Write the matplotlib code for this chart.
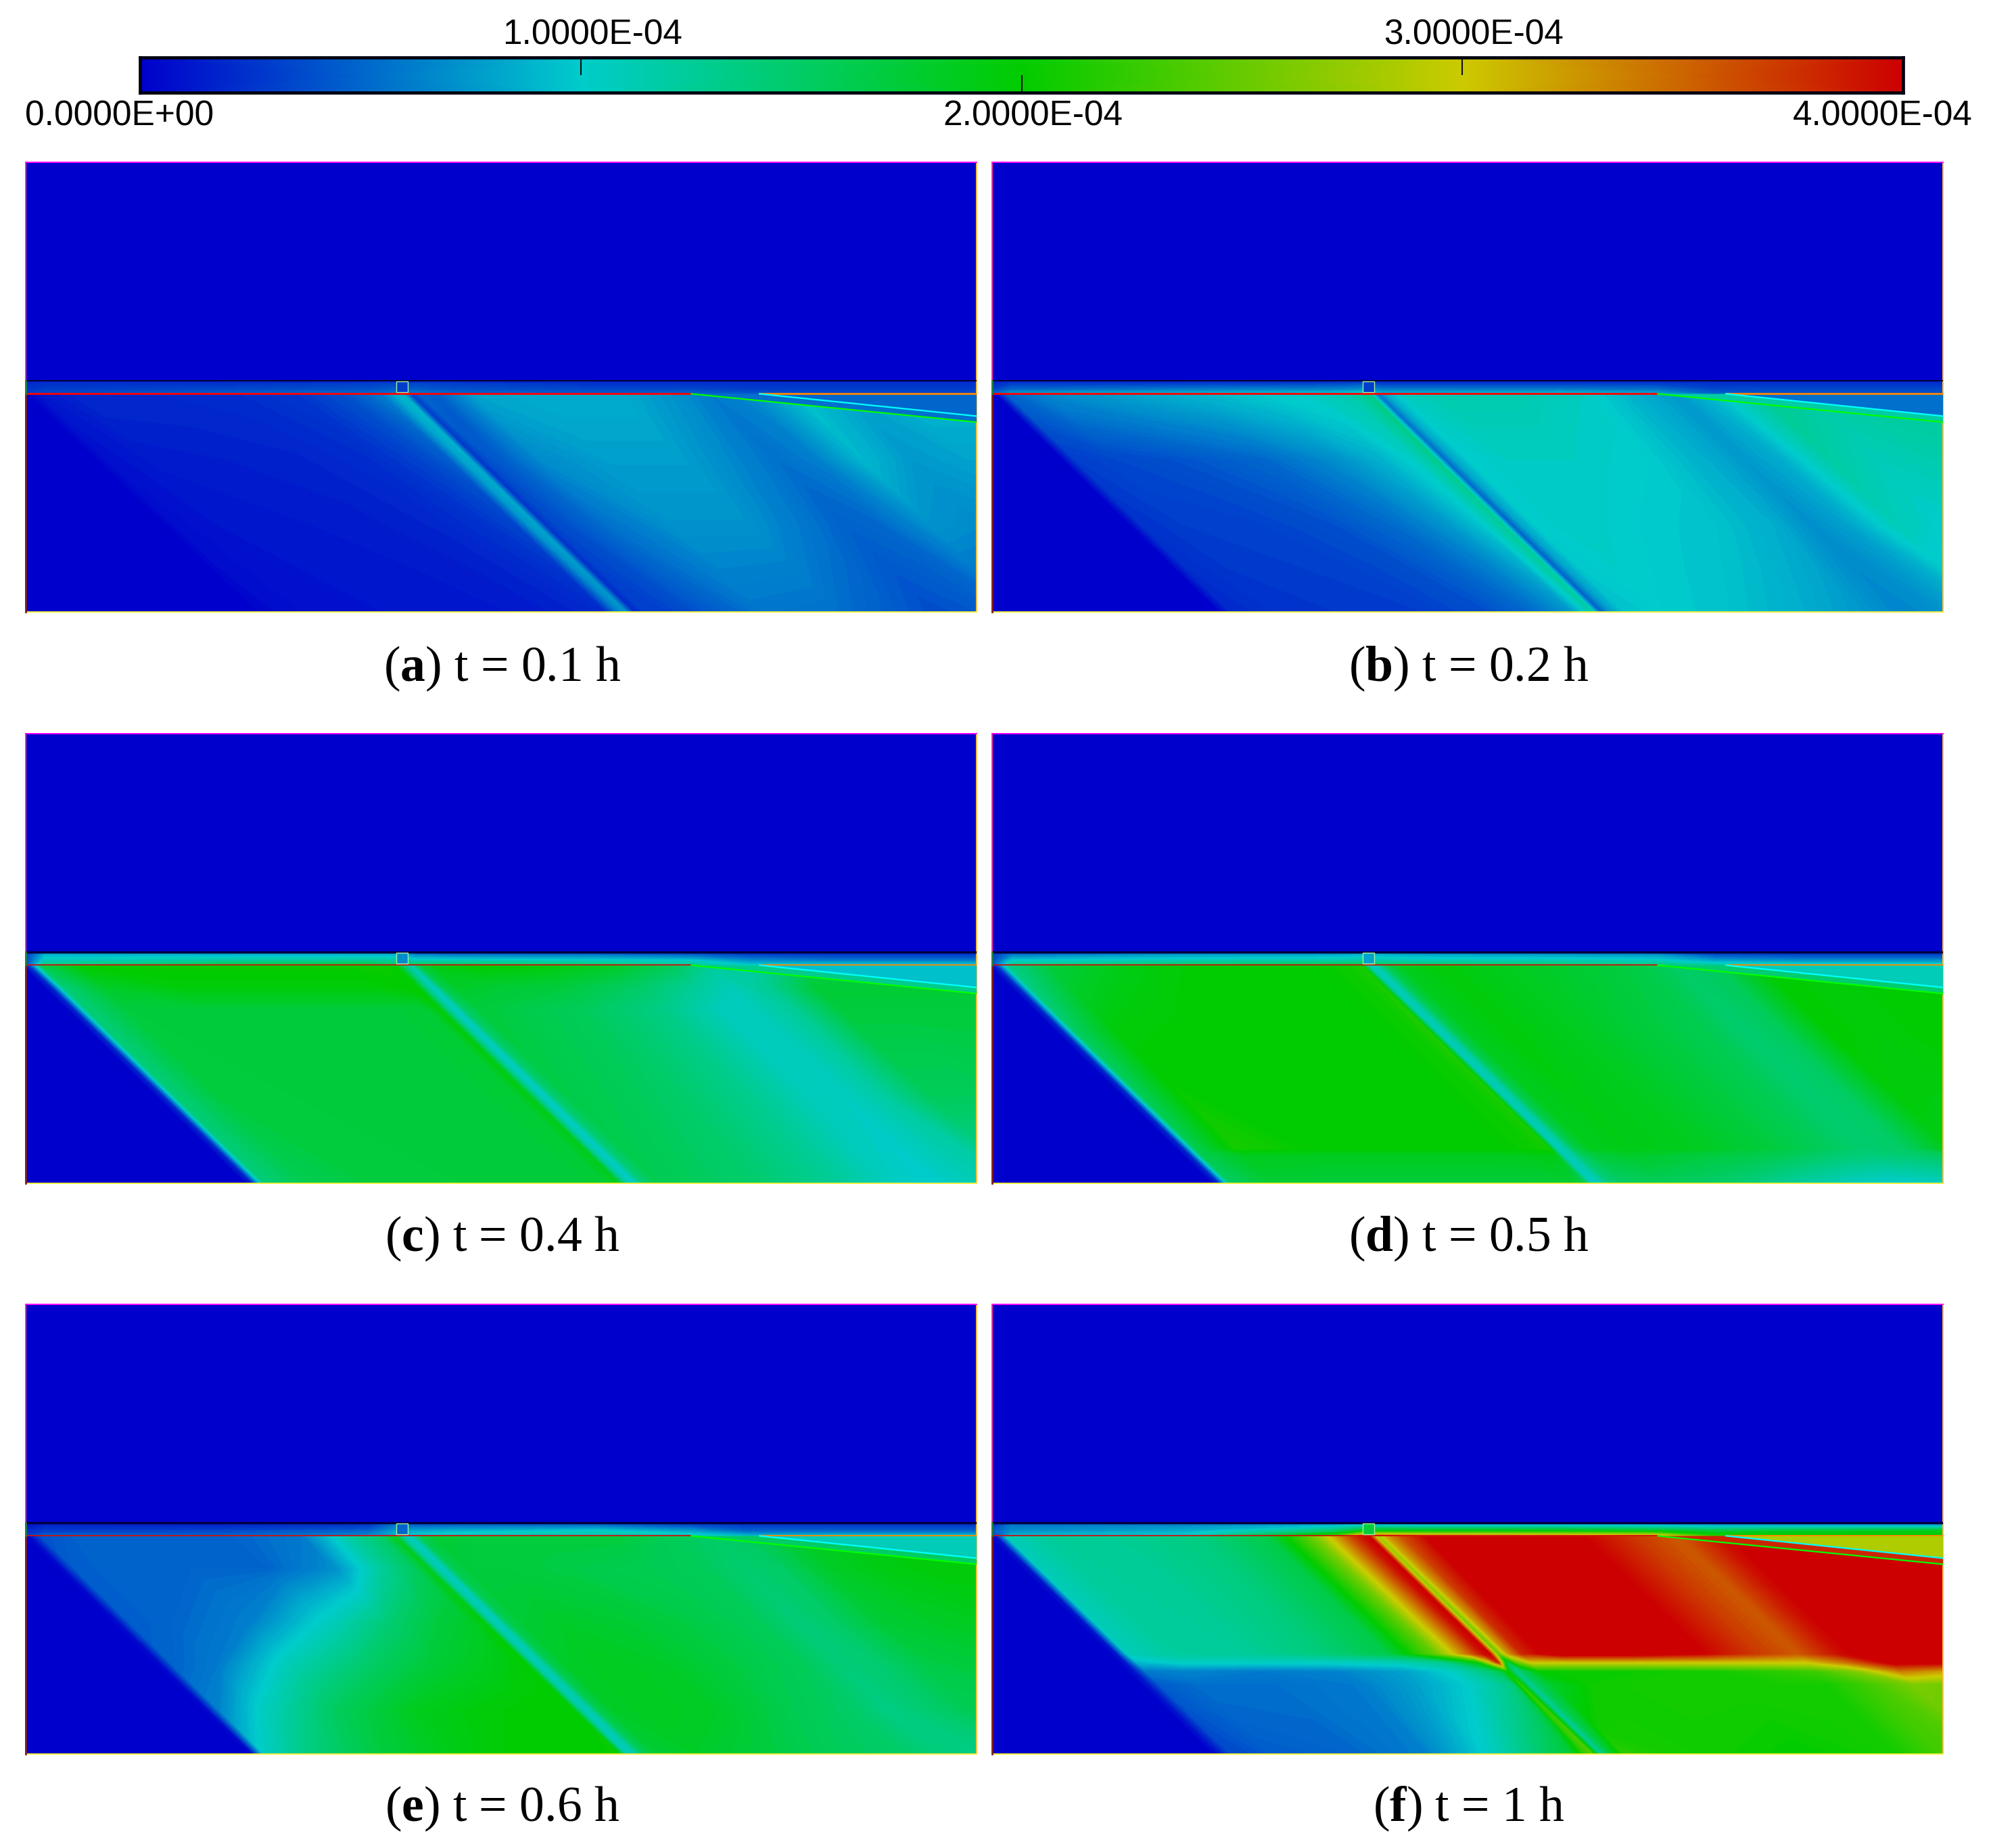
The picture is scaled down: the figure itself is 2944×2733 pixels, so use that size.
import numpy as np
import matplotlib
matplotlib.use('Agg')
import matplotlib.pyplot as plt
from matplotlib.colors import LinearSegmentedColormap, Normalize
from matplotlib.patches import Polygon, Rectangle

W, H = 2944, 2733
UNIT = 1e-4

# colour bar
COLORBAR_VALUES = [0.0, 1.0, 2.0, 3.0, 4.0]
COLORBAR_COLORS = ['#0000cc', '#00cccc', '#00cc00', '#cccc00', '#cc0000']
UPPER_LABELS = ['1.0000E-04', '3.0000E-04']
UPPER_LABEL_VALUES = [1.0, 3.0]
LOWER_LABELS = ['0.0000E+00', '2.0000E-04', '4.0000E-04']
LOWER_LABEL_VALUES = [0.0, 2.0, 4.0]

PANEL_LETTERS = ['a', 'b', 'c', 'd', 'e', 'f']
PANEL_TIMES = ['0.1', '0.2', '0.4', '0.5', '0.6', '1']

# columns along the interface, everything below runs along the same slanted lines
S_COLS = [-0.004, 0.004, 0.016, 0.06, 0.14, 0.22, 0.29, 0.34, 0.375, 0.388, 0.396, 0.405,
          0.415, 0.43, 0.47, 0.54, 0.62, 0.68, 0.72, 0.76, 0.81, 0.86, 0.92, 1.0]

# values in units of 1e-4, rows go from the interface down to the bottom
DEPTH_A = [0.0, 0.3, 0.6, 1.0]
FIELD_A = [
    [0, .03, .12, .2, .2, .22, .28, .42, .62, .85, .9, .3, .5, .45, .8, .85, .85, .72, .6, .68, .95, .8, .9, .9],
    [0, .02, .08, .13, .15, .17, .22, .32, .46, .8, .85, .25, .4, .45, .68, .78, .78, .65, .55, .62, .9, .75, .8, .8],
    [0, .01, .06, .1, .12, .14, .18, .25, .34, .75, .8, .25, .35, .4, .55, .72, .72, .58, .48, .52, .72, .68, .72, .72],
    [0, .01, .04, .08, .1, .11, .13, .17, .22, .62, .72, .2, .3, .3, .4, .58, .55, .45, .38, .42, .5, .5, .45, .4],
]
DEPTH_B = [0.0, 0.3, 0.6, 1.0]
FIELD_B = [
    [0, .03, .5, .68, .8, .9, 1.0, 1.05, 1.15, 1.25, 1.35, .55, .85, 1.05, 1.15, 1.15, 1.05, .85, .75, .95, 1.3, 1.2, 1.25, 1.25],
    [0, .02, .3, .35, .42, .52, .7, .88, 1.05, 1.2, 1.3, .5, .8, 1.0, 1.05, 1.05, 1.0, .85, .75, .85, 1.2, 1.1, 1.15, 1.2],
    [0, .02, .25, .3, .32, .4, .55, .75, .98, 1.15, 1.25, .45, .8, 1.0, 1.05, 1.0, .95, .85, .7, .8, 1.1, 1.0, 1.05, 1.1],
    [0, .02, .2, .25, .28, .3, .4, .55, .75, 1.0, 1.2, .45, .75, .95, 1.0, .95, .85, .75, .65, .7, .85, .85, .8, .7],
]
DEPTH_C = [0.0, 0.1, 0.2, 0.6, 1.0]
FIELD_C = [
    [0, .3, 1.6, 2.0, 2.03, 2.03, 2.03, 2.03, 2.05, 2.0, 1.5, 1.1, 1.7, 1.9, 2.0, 1.95, 1.8, 1.55, 1.25, 1.2, 1.5, 1.55, 1.5, 1.5],
    [0, .2, 1.4, 1.8, 1.95, 1.95, 1.95, 1.95, 2.0, 2.0, 1.4, 1.0, 1.6, 1.8, 1.75, 1.7, 1.5, 1.25, 1.1, 1.3, 1.75, 1.75, 1.75, 1.75],
    [0, .2, 1.4, 1.7, 1.72, 1.72, 1.72, 1.72, 1.75, 1.95, 1.3, 1.0, 1.5, 1.7, 1.65, 1.55, 1.35, 1.1, 1.1, 1.25, 1.7, 1.7, 1.7, 1.7],
    [0, .2, 1.4, 1.68, 1.7, 1.72, 1.72, 1.72, 1.75, 1.9, 1.25, 1.0, 1.45, 1.65, 1.6, 1.5, 1.3, 1.1, 1.05, 1.2, 1.55, 1.55, 1.6, 1.6],
    [0, .2, 1.4, 1.6, 1.7, 1.7, 1.72, 1.7, 1.75, 1.85, 1.2, 1.0, 1.4, 1.6, 1.55, 1.45, 1.25, 1.05, 1.0, 1.1, 1.2, 1.25, 1.3, 1.3],
]
DEPTH_D = [0.0, 0.3, 0.84, 0.87, 1.0]
FIELD_D = [
    [0, .2, 1.3, 1.7, 1.9, 2.0, 2.0, 2.0, 2.05, 2.1, 1.1, 1.15, 1.6, 1.85, 1.95, 1.85, 1.75, 1.65, 1.5, 1.55, 2.0, 1.95, 2.0, 2.0],
    [0, .2, 1.5, 1.95, 2.0, 2.0, 2.0, 2.0, 2.05, 2.15, 1.1, 1.15, 1.6, 1.85, 1.95, 1.85, 1.7, 1.6, 1.45, 1.55, 2.0, 1.95, 2.0, 2.0],
    [0, .2, 1.6, 2.1, 2.0, 2.0, 2.0, 2.0, 2.05, 2.1, 1.1, 1.15, 1.6, 1.85, 1.9, 1.85, 1.7, 1.55, 1.45, 1.5, 1.9, 1.9, 1.95, 1.95],
    [0, .2, 1.6, 1.85, 1.85, 1.85, 1.85, 1.85, 1.9, 1.9, 1.1, 1.15, 1.5, 1.7, 1.8, 1.7, 1.6, 1.45, 1.4, 1.45, 1.6, 1.6, 1.6, 1.6],
    [0, .2, 1.5, 1.75, 1.7, 1.7, 1.7, 1.72, 1.75, 1.6, 1.05, 1.1, 1.4, 1.5, 1.55, 1.45, 1.2, 1.05, 1.0, 1.05, 1.1, 1.1, 1.1, 1.1],
]
DEPTH_E = [0.0, 0.15, 0.4, 0.6, 0.8, 1.0]
FIELD_E = [
    [0, .05, .4, .5, .5, .5, .6, 1.2, 1.5, 1.85, 1.2, 1.05, 1.6, 1.75, 1.7, 1.7, 1.7, 1.55, 1.5, 1.55, 1.8, 1.9, 1.95, 1.95],
    [0, .05, .45, .5, .5, .5, .7, 1.25, 1.55, 1.85, 1.2, 1.05, 1.6, 1.7, 1.7, 1.65, 1.6, 1.55, 1.45, 1.5, 1.8, 1.9, 1.95, 1.95],
    [0, .05, .45, .5, .62, 1.05, 1.45, 1.7, 1.8, 1.95, 1.2, 1.05, 1.6, 1.75, 1.8, 1.75, 1.65, 1.55, 1.4, 1.5, 1.75, 1.8, 1.85, 1.9],
    [0, .05, .5, .6, 1.15, 1.5, 1.75, 1.85, 1.95, 2.0, 1.2, 1.1, 1.6, 1.8, 1.85, 1.8, 1.65, 1.55, 1.4, 1.45, 1.65, 1.7, 1.75, 1.75],
    [0, .05, .65, 1.05, 1.55, 1.85, 1.95, 2.0, 2.0, 2.0, 1.2, 1.1, 1.6, 1.8, 1.85, 1.8, 1.6, 1.5, 1.35, 1.45, 1.6, 1.6, 1.6, 1.6],
    [0, .05, 1.05, 1.35, 1.7, 1.9, 2.0, 2.0, 2.0, 2.05, 1.15, 1.1, 1.55, 1.75, 1.8, 1.7, 1.55, 1.5, 1.4, 1.35, 1.4, 1.4, 1.4, 1.4],
]
DEPTH_F = [0.0, 0.54, 0.58, 0.62, 0.68, 1.0]
FIELD_F = [
    [0, .1, 1.1, 1.25, 1.28, 1.38, 1.65, 2.6, 3.6, 3.9, 4.0, 2.7, 3.2, 3.6, 4.2, 4.2, 4.0, 3.7, 3.55, 3.9, 4.2, 4.2, 4.2, 4.2],
    [0, .1, 1.1, 1.22, 1.25, 1.4, 1.65, 2.5, 3.5, 3.9, 4.0, 2.4, 3.2, 3.8, 4.2, 4.2, 4.0, 3.7, 3.55, 3.9, 4.2, 4.2, 4.2, 4.2],
    [0, .1, .9, 1.05, 1.05, 1.05, 1.1, 1.3, 2.0, 3.0, 3.8, 1.5, 2.4, 3.0, 3.0, 3.0, 3.0, 3.0, 3.0, 3.4, 4.1, 4.1, 4.1, 4.1],
    [0, .1, .6, .65, .6, .65, .8, 1.05, 1.4, 1.6, 2.0, 1.3, 1.6, 2.0, 2.05, 2.05, 2.1, 2.2, 2.3, 2.6, 3.4, 3.2, 3.0, 3.0],
    [0, .1, .45, .55, .55, .6, .8, 1.0, 1.25, 1.4, 2.2, 1.2, 1.55, 1.8, 2.05, 2.1, 2.1, 2.1, 2.1, 2.3, 2.6, 2.5, 2.5, 2.5],
    [0, .1, .35, .45, .5, .62, 1.05, 1.45, 1.75, 2.2, 2.4, 1.2, 1.7, 2.2, 2.1, 2.05, 2.0, 2.05, 2.1, 2.3, 2.4, 2.4, 2.4, 2.4],
]
DEPTHS = [DEPTH_A, DEPTH_B, DEPTH_C, DEPTH_D, DEPTH_E, DEPTH_F]
FIELDS = [FIELD_A, FIELD_B, FIELD_C, FIELD_D, FIELD_E, FIELD_F]

# thin layer above the interface, rows go from the red line up to the black line
LAYER_X = [0.0, 0.02, 0.2, 0.36, 0.39, 0.41, 0.45, 0.6, 0.7, 0.76, 0.85, 1.0]
LAYER_ROWS = [0.0, 0.35, 0.75, 1.0]
LAYER_A = [
    [.3, .35, .45, .5, .6, .6, .5, .45, .5, .45, .35, .35],
    [.25, .3, .35, .4, .45, .45, .4, .35, .35, .3, .3, .3],
    [.2, .25, .25, .3, .35, .35, .3, .25, .25, .25, .25, .25],
    [.05, .1, .1, .1, .1, .1, .1, .1, .1, .1, .1, .1],
]
LAYER_B = [
    [.5, .8, .9, 1.0, 1.1, .9, .9, .95, .85, .5, .4, .4],
    [.3, .5, .6, .65, .7, .6, .6, .6, .55, .35, .35, .35],
    [.2, .3, .3, .35, .4, .3, .3, .3, .3, .25, .25, .25],
    [.05, .1, .1, .1, .1, .1, .1, .1, .1, .1, .1, .1],
]
LAYER_C = [
    [.3, 1.4, 1.7, 1.8, 1.6, 1.6, 1.6, 1.5, 1.3, 1.0, 1.0, 1.0],
    [.3, 1.1, 1.2, 1.25, 1.2, 1.1, 1.1, 1.05, 1.0, .7, .6, .6],
    [.3, .9, .9, .9, .9, .7, .6, .6, .5, .35, .3, .3],
    [.1, .5, .4, .5, .5, .2, .2, .15, .15, .1, .1, .1],
]
LAYER_D = [
    [.3, 1.4, 1.6, 1.7, 1.7, 1.6, 1.6, 1.5, 1.4, 1.2, 1.1, 1.1],
    [.3, 1.0, 1.1, 1.15, 1.2, 1.15, 1.1, 1.1, 1.05, .8, .7, .7],
    [.3, .6, .8, .85, .9, .9, .85, .8, .75, .4, .35, .35],
    [.1, .2, .25, .3, .5, .5, .3, .25, .2, .15, .15, .15],
]
LAYER_E = [
    [.3, .5, .5, .7, .9, 1.0, 1.1, 1.2, 1.1, .9, .95, .95],
    [.2, .3, .35, .5, .8, .85, .9, 1.05, .8, .5, .5, .5],
    [.1, .2, .2, .3, .6, .5, .55, .6, .4, .3, .3, .3],
    [.05, .1, .1, .2, .5, .3, .3, .3, .2, .15, .15, .15],
]
LAYER_F = [
    [.3, .9, 1.0, 2.4, 3.6, 3.6, 3.4, 3.3, 3.2, 2.2, 2.1, 2.0],
    [.4, .7, .85, 1.5, 2.0, 2.0, 2.0, 2.0, 1.9, 1.7, 1.8, 1.9],
    [.3, .6, .7, .95, 1.1, 1.1, 1.05, 1.05, 1.0, .9, .9, .9],
    [.1, .2, .3, .4, .6, .6, .5, .5, .4, .4, .4, .4],
]
LAYERS = [LAYER_A, LAYER_B, LAYER_C, LAYER_D, LAYER_E, LAYER_F]

# flat parts on the right: wedge above the cyan line, strip between cyan and green lines
WEDGE_VALUES = [0.5, 0.55, 0.95, 1.1, 1.1, 2.85]
STRIP_VALUES = [0.55, 1.2, 1.3, 1.45, 1.5, 3.8]
BOX_VALUES = [0.3, 0.3, 0.7, 0.8, 0.5, 1.7]

# line styles that change from panel to panel
RED_LINE = [('#ff0000', 2.0), ('#ff0000', 2.0), ('#cc1010', 1.3), ('#cc1010', 1.3), ('#cc1010', 1.3), ('#cc1010', 1.3)]
BLACK_LINE = [('#000020', 1.3), ('#000020', 1.3), ('#000040', 2.4), ('#000040', 2.4), ('#000040', 2.4), ('#000040', 2.4)]

# panel layout in pixels
COL_X = [38, 1467]
ROW_Y = [240, 1085, 1929]
PANEL_W, PANEL_H = 1406, 665
CAPTION_BASE = [1007, 1850, 2693]

Y_RED = 0.485
Y_BLACK = 0.515
SHEAR = 0.235
GREEN_START, GREEN_END = 0.70, 0.422
CYAN_START, CYAN_END = 0.772, 0.4355

plt.rcParams['font.family'] = ['Liberation Serif', 'DejaVu Serif']
plt.rcParams['mathtext.fontset'] = 'custom'
plt.rcParams['mathtext.rm'] = 'Liberation Serif'
plt.rcParams['mathtext.bf'] = 'Liberation Serif:bold'

cmap = LinearSegmentedColormap.from_list('tecplot', COLORBAR_COLORS)
cmap.set_over('#cc0000')
norm = Normalize(0, 4 * UNIT)
levels = np.linspace(0, 4, 161) * UNIT


def px_axes(fig, x0, y0, w, h):
    return fig.add_axes([x0 / W, 1 - (y0 + h) / H, w / W, h / H])


def color_of(v):
    return cmap(norm(v * UNIT))


def draw_colorbar(fig):
    ax = px_axes(fig, 207, 85, 2607, 52)
    xs = np.array(COLORBAR_VALUES) * UNIT
    ax.pcolormesh(xs, [0, 1], np.array([COLORBAR_VALUES, COLORBAR_VALUES]) * UNIT,
                  cmap=cmap, norm=norm, shading='gouraud')
    ax.set_xlim(0, 4 * UNIT)
    ax.set_ylim(0, 1)
    ax.set_xticks([])
    ax.set_yticks([])
    for sp in ax.spines.values():
        sp.set_linewidth(3.4)
        sp.set_color('#000010')
    ax.vlines(np.array(UPPER_LABEL_VALUES) * UNIT, 0.5, 1, color='#101010', lw=1.5)
    ax.vlines(np.array(LOWER_LABEL_VALUES[1:2]) * UNIT, 0, 0.5, color='#101010', lw=1.5)

    font = dict(family='Liberation Sans', fontsize=37, ha='center', color='black')
    for lab, v in zip(UPPER_LABELS, UPPER_LABEL_VALUES):
        fig.text((207 + v * 651.75 + 17) / W, 1 - 66 / H, lab, va='baseline', **font)
    for lab, v in zip(LOWER_LABELS, LOWER_LABEL_VALUES):
        fig.text((207 + v * 651.75 + 17 - 47 * (v != 2.0)) / W, 1 - 185 / H, lab, va='baseline', **font)


def draw_panel(fig, i):
    col = i % 2
    row = i // 2
    ax = px_axes(fig, COL_X[col], ROW_Y[row], PANEL_W, PANEL_H)
    ax.set_facecolor('#0000cc')
    ax.set_xlim(0, 1)
    ax.set_ylim(0, 1)
    ax.set_xticks([])
    ax.set_yticks([])

    # lower part, the mesh leans along the fault direction
    s = np.array(S_COLS)
    d = np.array(DEPTHS[i])
    S, D = np.meshgrid(s, d)
    X = S + SHEAR * D
    Y = Y_RED * (1 - D)
    ax.contourf(X, Y, np.array(FIELDS[i]) * UNIT, levels=levels, cmap=cmap, norm=norm, extend='max')

    # thin layer
    lx, ly = np.meshgrid(LAYER_X, Y_RED + (Y_BLACK - Y_RED) * np.array(LAYER_ROWS))
    ax.contourf(lx, ly, np.array(LAYERS[i]) * UNIT, levels=levels, cmap=cmap, norm=norm, extend='max')

    # wedge on the right
    ax.add_patch(Polygon([(GREEN_START, Y_RED), (CYAN_START, Y_RED), (1, CYAN_END), (1, GREEN_END)],
                         fc=color_of(STRIP_VALUES[i]), ec='none', zorder=3))
    ax.add_patch(Polygon([(CYAN_START, Y_RED), (1, Y_RED), (1, CYAN_END)],
                         fc=color_of(WEDGE_VALUES[i]), ec='none', zorder=3))

    c, lw = RED_LINE[i]
    ax.plot([0, GREEN_START], [Y_RED, Y_RED], color=c, lw=lw, zorder=4)
    ax.plot([CYAN_START, 1], [Y_RED, Y_RED], color='#ff8800', lw=lw, zorder=4)
    ax.plot([GREEN_START, 1], [Y_RED, GREEN_END], color='#00ff00', lw=1.6, zorder=4)
    ax.plot([CYAN_START, 1], [Y_RED, CYAN_END], color='#00ffff', lw=1.6, zorder=4)
    c, lw = BLACK_LINE[i]
    ax.plot([0, 1], [Y_BLACK, Y_BLACK], color=c, lw=lw, zorder=4)

    # small box on the top of the fault
    ax.add_patch(Rectangle((0.390, Y_RED + 0.004), 0.012, 0.024, fc=color_of(BOX_VALUES[i]),
                           ec='#a8f0a0', lw=1.0, zorder=5))

    ax.spines['top'].set_color('#ff00ff')
    ax.spines['left'].set_color('#ff30a0')
    ax.spines['right'].set_color('#ffc040')
    ax.spines['bottom'].set_color('#f0f040')
    for sp in ax.spines.values():
        sp.set_linewidth(1.4)
    ax.plot([0, 0], [0, Y_RED], color='#802020', lw=2.0, clip_on=False, zorder=6)
    ax.plot([0, 0], [Y_RED, Y_BLACK], color='#208040', lw=2.0, clip_on=False, zorder=6)

    # caption
    label = f'($\\mathbf{{{PANEL_LETTERS[i]}}}$) t = {PANEL_TIMES[i]} h'
    fig.text((COL_X[col] + PANEL_W / 2 + 2) / W, 1 - CAPTION_BASE[row] / H, label,
             fontsize=53, ha='center', va='baseline', color='black')


def main():
    fig = plt.figure(figsize=(W / 100, H / 100), dpi=100, facecolor='white')
    draw_colorbar(fig)
    for i in range(len(PANEL_LETTERS)):
        draw_panel(fig, i)
    fig.savefig('out.png', dpi=100)


if __name__ == '__main__':
    main()
